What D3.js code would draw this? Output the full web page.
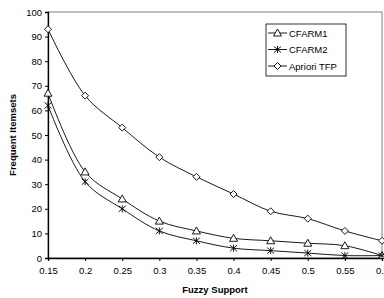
<!DOCTYPE html>
<html>
<head>
<meta charset="utf-8">
<script src="https://cdn.jsdelivr.net/npm/d3@7"></script>
<style>
  body { margin: 0; background: #fff; }
  text { font-family: "Liberation Sans", Arial, sans-serif; }
</style>
</head>
<body>
<div id="chart"></div>
<script>
// values
const support = [0.15, 0.2, 0.25, 0.3, 0.35, 0.4, 0.45, 0.5, 0.55, 0.6];
const cfarm1 = [67, 35, 24, 15, 11, 8, 7, 6, 5, 1];
const cfarm2 = [62, 31, 20, 11, 7, 4, 3, 2, 1, 1];
const aprioriTfp = [93, 66, 53, 41, 33, 26, 19, 16, 11, 7];
const seriesNames = ["CFARM1", "CFARM2", "Apriori TFP"];
const markerKinds = ["triangle", "star", "diamond"];
const yTicks = [0, 10, 20, 30, 40, 50, 60, 70, 80, 90, 100];

const width = 384, height = 298;
const margin = {top: 12, right: 2, bottom: 40, left: 48};
const fontSize = "9.5px";

const svg = d3.select("#chart").append("svg")
    .attr("width", width)
    .attr("height", height);

const x = d3.scaleLinear()
    .domain([0.15, 0.6])
    .range([margin.left, width - margin.right]);
const y = d3.scaleLinear()
    .domain([0, 100])
    .range([height - margin.bottom, margin.top]);

// plot area frame (grey top/right)
svg.append("rect")
    .attr("x", x(0.15)).attr("y", y(100))
    .attr("width", x(0.6) - x(0.15))
    .attr("height", y(0) - y(100))
    .attr("fill", "none")
    .attr("stroke", "#808080")
    .attr("stroke-width", 1);

// axes
const xAxis = svg.append("g")
    .attr("transform", `translate(0,${y(0)})`)
    .call(d3.axisBottom(x).tickValues(support).tickSize(3).tickFormat(d3.format("")));
const yAxis = svg.append("g")
    .attr("transform", `translate(${x(0.15)},0)`)
    .call(d3.axisLeft(y).tickValues(yTicks).tickSize(3));

[xAxis, yAxis].forEach(a => {
    a.select(".domain").attr("stroke", "#000").attr("stroke-width", 1.3);
    a.selectAll(".tick line").attr("stroke", "#000");
    a.selectAll("text")
        .attr("fill", "#000")
        .style("font-size", fontSize);
});
xAxis.selectAll("text").attr("dy", "1.0em");

// axis titles
svg.append("text")
    .attr("x", (x(0.15) + x(0.6)) / 2)
    .attr("y", 293)
    .attr("text-anchor", "middle")
    .style("font-size", fontSize)
    .style("font-weight", "bold")
    .text("Fuzzy Support");
svg.append("text")
    .attr("transform", `translate(16,${(y(0) + y(100)) / 2}) rotate(-90)`)
    .attr("text-anchor", "middle")
    .style("font-size", fontSize)
    .style("font-weight", "bold")
    .text("Frequent Itemsets");

// markers
function drawMarker(g, kind, cx, cy) {
    if (kind === "triangle") {
        g.append("path")
            .attr("d", `M${cx},${cy - 4}L${cx + 4},${cy + 3}L${cx - 4},${cy + 3}Z`)
            .attr("fill", "#fff").attr("stroke", "#000").attr("stroke-width", 0.9);
    } else if (kind === "star") {
        g.append("path")
            .attr("d", `M${cx - 3.5},${cy - 3}L${cx + 3.5},${cy + 3}M${cx - 3.5},${cy + 3}L${cx + 3.5},${cy - 3}M${cx},${cy - 3.5}L${cx},${cy + 3.5}`)
            .attr("fill", "none").attr("stroke", "#000").attr("stroke-width", 0.9);
    } else {
        g.append("path")
            .attr("d", `M${cx},${cy - 3.5}L${cx + 3.5},${cy}L${cx},${cy + 3.5}L${cx - 3.5},${cy}Z`)
            .attr("fill", "#fff").attr("stroke", "#000").attr("stroke-width", 0.9);
    }
}

const allSeries = [cfarm1, cfarm2, aprioriTfp];
const line = d3.line()
    .x((d, i) => x(support[i]))
    .y(d => y(d))
    .curve(d3.curveCatmullRom.alpha(0.5));

allSeries.forEach((vals, s) => {
    const g = svg.append("g");
    g.append("path")
        .attr("d", line(vals))
        .attr("fill", "none")
        .attr("stroke", "#000")
        .attr("stroke-width", 0.9);
    vals.forEach((v, i) => drawMarker(g, markerKinds[s], x(support[i]), y(v)));
});

// legend
const legend = svg.append("g");
legend.append("rect")
    .attr("x", 266).attr("y", 24)
    .attr("width", 80).attr("height", 52)
    .attr("fill", "#fff")
    .attr("stroke", "#000")
    .attr("stroke-width", 0.8);
seriesNames.forEach((name, i) => {
    const ly = 33 + i * 16.5;
    legend.append("line")
        .attr("x1", 268).attr("x2", 287)
        .attr("y1", ly).attr("y2", ly)
        .attr("stroke", "#000").attr("stroke-width", 0.9);
    drawMarker(legend, markerKinds[i], 277.5, ly);
    legend.append("text")
        .attr("x", 289).attr("y", ly + 3.5)
        .style("font-size", fontSize)
        .text(name);
});
</script>
</body>
</html>
